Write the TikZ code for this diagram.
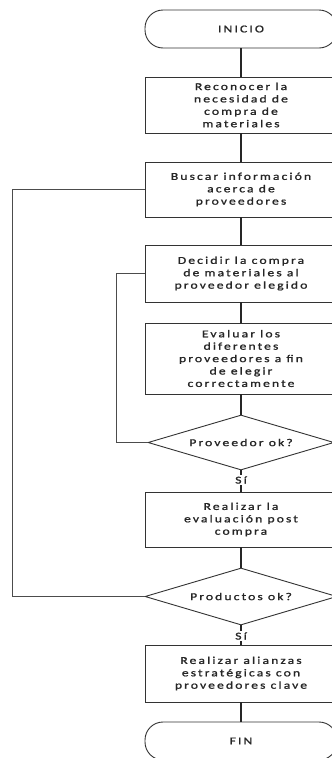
\documentclass[tikz,border=0pt]{standalone}
\usepackage{fontspec}
\usetikzlibrary{shapes.geometric}
\newfontfamily\diagfont{Carlito}[FakeStretch=1.3,LetterSpace=20,FakeBold=1.2]
\begin{document}
\begin{tikzpicture}[x=1pt,y=-1pt,
  txt/.style={font=\diagfont\fontsize{10.5}{12.4}\selectfont, text=black!85, align=center, inner sep=0pt},
  procbox/.style={draw=black!80, line width=0.9pt, minimum width=192pt, inner sep=0pt, txt},
  term/.style={draw=black!80, line width=0.9pt, minimum width=192pt, minimum height=38pt, rounded corners=18pt, inner sep=0pt, txt},
  decision/.style={diamond, draw=black!80, line width=0.9pt, inner sep=0pt},
  flow/.style={draw=black!85, line width=1.4pt},
  loop/.style={draw=black!70, line width=1.2pt},
  yes/.style={txt, fill=white, inner sep=1pt}]
\path[use as bounding box, fill=white] (0,0) rectangle (332,758);
\clip (0,0) rectangle (332,758);

\node[term] (ini) at (241,29) {INICIO};
\node[procbox, minimum height=56pt] (b1) at (241,105) {Reconocer la\\necesidad de\\compra de\\materiales};
\node[procbox, minimum height=55pt] (b2) at (241,189.5) {Buscar información\\acerca de\\proveedores};
\node[procbox, minimum height=57pt] (b3) at (241,273.5) {Decidir la compra\\de materiales al\\proveedor elegido};
\node[procbox, minimum height=71pt] (b4) at (241,358.5) {Evaluar los\\diferentes\\proveedores a fin\\de elegir\\correctamente};
\node[decision, minimum width=186pt, minimum height=55pt] (d1) at (241,442.5) {};
\node[txt] (d1t) at (d1) {Proveedor ok?};
\node[procbox, minimum height=55pt] (b5) at (241,519.5) {Realizar la\\evaluación post\\compra};
\node[decision, minimum width=192pt, minimum height=57pt] (d2) at (241,596.5) {};
\node[txt] (d2t) at (d2) {Productos ok?};
\node[procbox, minimum height=57pt] (b6) at (241,673.5) {Realizar alianzas\\estratégicas con\\proveedores clave};
\node[term] (fin) at (241,741) {FIN};

\draw[flow] (ini) -- (b1);
\draw[flow] (b1) -- (b2);
\draw[flow] (b2) -- (b3);
\draw[flow] (b3) -- (b4);
\draw[flow] (b4) -- (d1);
\draw[flow] (d1) -- (b5);
\draw[flow] (b5) -- (d2);
\draw[flow] (d2) -- (b6);
\draw[flow] (b6) -- (fin);

\node[yes] (s1) at (241,480) {Sí};
\node[yes] (s2) at (241,636) {Sí};

\draw[loop] (b3.west) -- ++(-28,0) |- (d1.west);
\draw[loop] (b2.west) -- ++(-132,0) |- (d2.west);
\end{tikzpicture}
\end{document}
